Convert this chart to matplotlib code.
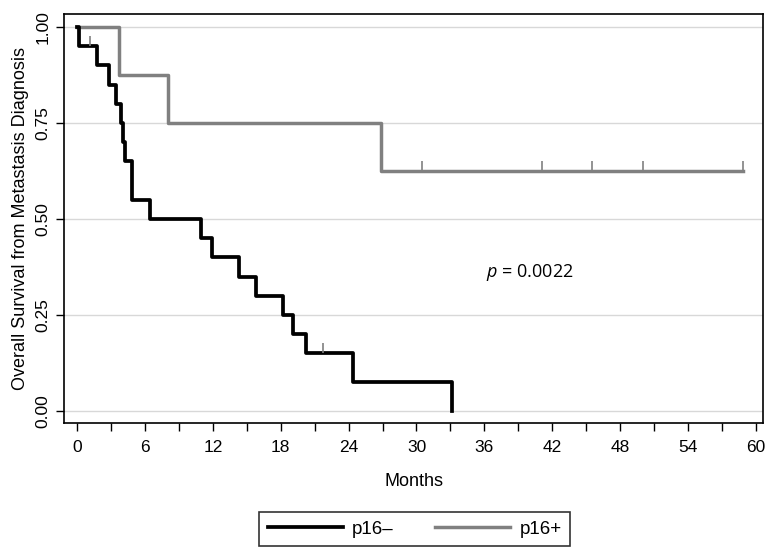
import matplotlib
matplotlib.use("Agg")
from matplotlib import pyplot as plt

# p16- group (step curve)
neg_times = [0, 0.2, 1.8, 2.8, 3.45, 3.9, 4.05, 4.2, 4.85, 6.45, 10.95,
             11.9, 14.3, 15.85, 18.2, 19.1, 20.2, 24.4, 33.15]
neg_surv = [1.0, 0.95, 0.90, 0.85, 0.80, 0.75, 0.70, 0.65, 0.55, 0.50, 0.45,
            0.40, 0.35, 0.30, 0.25, 0.20, 0.15, 0.075, 0.0]
neg_cens_t = [1.15, 21.7]
neg_cens_s = [0.95, 0.15]

# p16+ group
pos_times = [0, 3.75, 8.0, 26.9, 58.83]
pos_surv = [1.0, 0.875, 0.75, 0.625, 0.625]
pos_cens_t = [30.46, 41.06, 45.54, 50.04, 58.83]
pos_cens_s = [0.625, 0.625, 0.625, 0.625, 0.625]

x_ticks = list(range(0, 61, 6))
y_ticks = [0.0, 0.25, 0.5, 0.75, 1.0]
y_labels = ["0.00", "0.25", "0.50", "0.75", "1.00"]
p_text = "$\\mathit{p}$ = 0.0022"

plt.rcParams['font.family'] = ['Liberation Sans', 'DejaVu Sans']
plt.rcParams['mathtext.fontset'] = 'custom'
plt.rcParams['mathtext.it'] = 'Open Sans:italic'
plt.rcParams['mathtext.rm'] = 'Open Sans'

fig = plt.figure(figsize=(7.75, 5.56), dpi=100)
ax = fig.add_axes([0.0826, 0.2392, 0.9019, 0.7356])

for y in y_ticks:
    ax.axhline(y, color="#d8d8d8", lw=1.0, zorder=0)

ax.plot(pos_times, pos_surv, color="#808080", lw=2.5, drawstyle="steps-post",
        label="p16+", zorder=2)
ax.plot(neg_times, neg_surv, color="black", lw=2.7, drawstyle="steps-post",
        label="p16\u2013", zorder=3)
ax.plot(pos_cens_t, pos_cens_s, ls="none", marker=2, ms=7, mew=1.2,
        color="#808080", zorder=2)
ax.plot(neg_cens_t, neg_cens_s, ls="none", marker=2, ms=7, mew=1.2,
        color="#808080", zorder=3)

ax.set_xlim(-1.15, 60.62)
ax.set_ylim(-0.031, 1.034)
ax.set_xticks(x_ticks)
ax.set_xticks(list(range(3, 60, 6)), minor=True)
ax.set_yticks(y_ticks)
ax.set_yticklabels(y_labels, rotation=90, va="center")
ax.tick_params(axis="both", direction="out", length=6, width=1, labelsize=12.5)
ax.tick_params(axis="x", pad=6)
ax.tick_params(axis="x", which="minor", direction="out", length=6, width=1)
for s in ax.spines.values():
    s.set_linewidth(1.2)

ax.set_xlabel("Months", fontsize=13, labelpad=13)
ax.set_ylabel("Overall Survival from Metastasis Diagnosis", fontsize=13, labelpad=5)

ax.text(40.0, 0.36, p_text, fontsize=13, ha="center", va="center",
        family=["Open Sans", "DejaVu Sans"])

h, l = ax.get_legend_handles_labels()
leg = fig.legend([h[1], h[0]], [l[1], l[0]], loc="center",
                 bbox_to_anchor=(0.535, 0.048), ncol=2, fontsize=13.5,
                 handlelength=4.0, columnspacing=2.2, frameon=True, fancybox=False,
                 borderpad=0.45, handletextpad=0.5, borderaxespad=0)
leg.get_frame().set_edgecolor("black")
leg.get_frame().set_linewidth(1.2)

fig.savefig("out.png", dpi=100)
